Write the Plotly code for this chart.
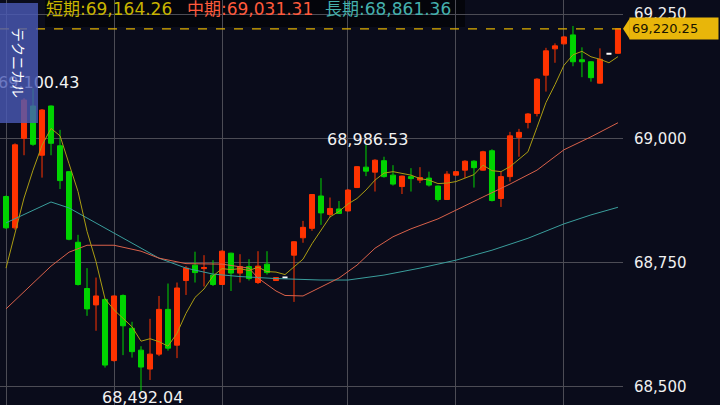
import plotly.graph_objects as go

# ローソク足 (赤=陽線, 緑=陰線)
open_ = [68883, 68820, 69000, 69065, 68966, 69065, 68985, 68933, 68791, 68698,
         68665, 68676, 68553, 68684, 68618, 68574, 68536, 68566, 68656, 68584,
         68714, 68745, 68738, 68725, 68706, 68769, 68729, 68742, 68710, 68747,
         68714, 68720, 68765, 68800, 68819, 68884, 68847, 68858, 68854, 68901,
         68942, 68932, 68955, 68926, 68903, 68923, 68916, 68920, 68904, 68877,
         68926, 68936, 68954, 68936, 68975, 68879, 68923, 69002, 69032, 69050,
         69127, 69180, 69190, 69208, 69158, 69154, 69111, 69170, 69171]
high = [68885, 68990, 69081, 69100.43, 69059, 69066, 69017, 68934, 68806, 68739,
        68720, 68678, 68684, 68686, 68631, 68582, 68637, 68683, 68708, 68710,
        68743, 68772, 68765, 68755, 68775, 68770, 68767, 68757, 68773, 68773,
        68721, 68720, 68793, 68834, 68888, 68920, 68881, 68874, 68898, 68944,
        68986.53, 68958, 68963, 68946, 68925, 68940, 68942, 68933, 68905, 68934,
        68934, 68956, 68956, 68975, 68978, 68933, 69013, 69019, 69051, 69121,
        69182, 69191, 69206, 69226, 69183, 69155, 69181, 69170, 69220.25]
low = [68818, 68816, 68966, 68985, 68921, 68966, 68898, 68795, 68704, 68643,
       68613, 68539, 68551, 68564, 68559, 68492.04, 68514, 68562, 68573, 68558,
       68685, 68710, 68702, 68703, 68705, 68693, 68710, 68714, 68707, 68726,
       68713, 68720, 68671, 68790, 68814, 68826, 68841, 68848, 68853, 68900,
       68924, 68893, 68921, 68905, 68888, 68893, 68910, 68903, 68873, 68876,
       68925, 68920, 68901, 68935, 68873, 68862, 68913, 68963, 69020, 69044,
       69094, 69152, 69189, 69145, 69123, 69114, 69110, 69170, 69170]
close = [68820, 68987, 69077, 68988, 69057, 68990, 68915, 68797, 68706, 68657,
         68683, 68544, 68683, 68623, 68571, 68540, 68566, 68656, 68578, 68699,
         68739, 68730, 68740, 68706, 68773, 68729, 68742, 68718, 68743, 68730,
         68720, 68720, 68792, 68821, 68887, 68850, 68859, 68849, 68896, 68943,
         68934, 68956, 68923, 68908, 68924, 68919, 68921, 68906, 68877, 68928,
         68933, 68954, 68941, 68973, 68875, 68923, 69005, 69012, 69049, 69119,
         69176, 69186, 69204, 69154, 69154, 69122, 69159, 69170, 69220.25]

# 移動平均 (短期 / 中期 / 長期)
ma_short = [68739, 68812, 68880, 68936, 68986, 69020, 69005, 68949, 68893, 68813,
            68752, 68677, 68655, 68638, 68621, 68592, 68597, 68591, 68582, 68608,
            68648, 68680, 68697, 68723, 68738, 68736, 68738, 68734, 68741, 68732,
            68731, 68726, 68741, 68757, 68788, 68814, 68842, 68853, 68868, 68879,
            68896, 68916, 68930, 68933, 68929, 68926, 68919, 68916, 68909, 68910,
            68913, 68920, 68927, 68946, 68935, 68933, 68943, 68958, 68973, 69022,
            69072, 69108, 69147, 69168, 69175, 69164, 69159, 69152, 69164.26]
mid_idx = [0, 2, 5, 7, 9, 12, 15, 17, 20, 24, 27, 28, 30, 31, 33, 35, 37, 39,
           41, 43, 45, 48, 50, 53, 56, 59, 62, 65, 68]
ma_mid = [68657, 68691, 68743, 68771, 68785, 68785, 68773, 68759, 68748, 68747,
          68739, 68719, 68693, 68684, 68683, 68701, 68719, 68745, 68779, 68802,
          68818, 68838, 68856, 68882, 68908, 68936, 68977, 69003, 69031.31]
long_idx = [0, 3, 5, 7, 9, 12, 15, 17, 20, 23, 26, 30, 35, 38, 42, 46, 50, 54,
            58, 62, 65, 68]
ma_long = [68830, 68856, 68872, 68860, 68840, 68810, 68779, 68759, 68739, 68727,
           68722, 68718, 68715, 68715, 68725, 68739, 68755, 68775, 68799, 68828,
           68846, 68861.36]

y_ticks = [68500, 68750, 69000, 69250]
x_grid = [0, 12, 24, 38, 50, 62]

BG = "#0a0c1b"
FONT = "DejaVu Sans, Noto Sans CJK JP"

idx = list(range(len(close)))
body = [i for i in idx if open_[i] != close[i]]
doji = [i for i in idx if open_[i] == close[i]]

fig = go.Figure()
fig.add_trace(go.Candlestick(
    x=body,
    open=[open_[i] for i in body], high=[high[i] for i in body],
    low=[low[i] for i in body], close=[close[i] for i in body],
    increasing=dict(line=dict(color="#ff3300", width=1), fillcolor="#ff3300"),
    decreasing=dict(line=dict(color="#00d400", width=1), fillcolor="#00d400"),
    showlegend=False, hoverinfo="skip",
))
fig.add_trace(go.Candlestick(
    x=doji,
    open=[open_[i] for i in doji], high=[high[i] for i in doji],
    low=[low[i] for i in doji], close=[close[i] for i in doji],
    increasing=dict(line=dict(color="#ffffff", width=2), fillcolor="#ffffff"),
    decreasing=dict(line=dict(color="#ffffff", width=2), fillcolor="#ffffff"),
    showlegend=False, hoverinfo="skip",
))
fig.add_trace(go.Scatter(x=long_idx, y=ma_long, mode="lines",
                         line=dict(color="#3a9e9c", width=1), showlegend=False))
fig.add_trace(go.Scatter(x=mid_idx, y=ma_mid, mode="lines",
                         line=dict(color="#d9614a", width=1), showlegend=False))
fig.add_trace(go.Scatter(x=idx, y=ma_short, mode="lines",
                         line=dict(color="#aa9c12", width=1), showlegend=False))

last = close[-1]

# 現在値ライン
fig.add_shape(type="line", xref="paper", x0=0, x1=1, yref="y", y0=last, y1=last,
              line=dict(color="#e0b000", width=1.2, dash="dash"))
# 上部の凡例帯
fig.add_shape(type="rect", xref="paper", yref="paper",
              x0=45 / 623, x1=465 / 623, y0=1 - 27 / 405, y1=1,
              fillcolor="#04050b", line=dict(width=0), layer="between")
# 価格タグの矢印
fig.add_shape(type="path", xref="paper", yref="y",
              path=f"M 1.0,{last} L 1.011,{last + 21} L 1.011,{last - 21} Z",
              fillcolor="#e8b60a", line=dict(width=0))

annotations = [
    dict(text="短期:69,164.26", x=44 / 623, color="#c8b400"),
    dict(text="中期:69,031.31", x=185 / 623, color="#ff5a3c"),
    dict(text="長期:68,861.36", x=323 / 623, color="#45b0ad"),
]
for a in annotations:
    fig.add_annotation(text=a["text"], xref="paper", yref="paper", x=a["x"], y=1,
                       xanchor="left", yanchor="middle", yshift=-8.5, showarrow=False,
                       font=dict(family=FONT, size=17, color=a["color"]))

# 高値・安値ラベル
hi_i = high.index(max(high[:10]))
fig.add_annotation(text=f"{high[hi_i]:,.2f}", x=hi_i, y=high[hi_i], xshift=5, yshift=6,
                   yanchor="middle", showarrow=False,
                   font=dict(family=FONT, size=16, color="#f2f2f2"))
mid_hi = high.index(68986.53)
fig.add_annotation(text=f"{high[mid_hi]:,.2f}", x=mid_hi, y=high[mid_hi], xshift=2, yshift=6,
                   yanchor="middle", showarrow=False,
                   font=dict(family=FONT, size=16, color="#f2f2f2"))
lo_i = low.index(min(low))
fig.add_annotation(text=f"{low[lo_i]:,.2f}", x=lo_i, y=low[lo_i], xshift=1, yshift=-7,
                   yanchor="middle", showarrow=False,
                   font=dict(family=FONT, size=16, color="#f2f2f2"))

# テクニカル タブ
fig.add_annotation(text="テクニカル", textangle=90, xref="paper", yref="paper",
                   x=19 / 623, y=1 - 62.5 / 405, xanchor="center", yanchor="middle",
                   width=115, height=34, borderpad=2, bgcolor="rgba(74,90,182,0.8)",
                   showarrow=False, font=dict(family="Noto Sans CJK JP", size=14, color="white"))

# 現在値タグ
fig.add_annotation(text=f"{last:,.2f}", xref="paper", yref="y", x=629 / 623, y=last,
                   xanchor="left", yanchor="middle", align="left", width=84, height=17,
                   borderpad=2, bgcolor="#e8b60a", showarrow=False,
                   font=dict(family=FONT, size=13, color="#1a1400"))

fig.update_layout(
    width=720, height=405, autosize=False,
    margin=dict(l=0, r=97, t=0, b=0),
    paper_bgcolor=BG, plot_bgcolor=BG,
    boxgap=0.2,
    showlegend=False,
    xaxis=dict(range=[-0.67, 68.56], rangeslider=dict(visible=False),
               tickvals=x_grid, showticklabels=False, showgrid=True,
               gridcolor="#4c4c55", gridwidth=1, zeroline=False, showline=False),
    yaxis=dict(range=[68463.7, 69278.2], side="right", tickvals=y_ticks,
               tickformat=",", showgrid=True, gridcolor="#4c4c55", gridwidth=1,
               zeroline=False, showline=False, ticks="", ticklabelstandoff=10,
               tickfont=dict(family=FONT, size=15, color="#f0f0f0")),
)

fig.write_html("out.html", config=dict(displayModeBar=False),
               post_script="document.body.style.margin='0';")
